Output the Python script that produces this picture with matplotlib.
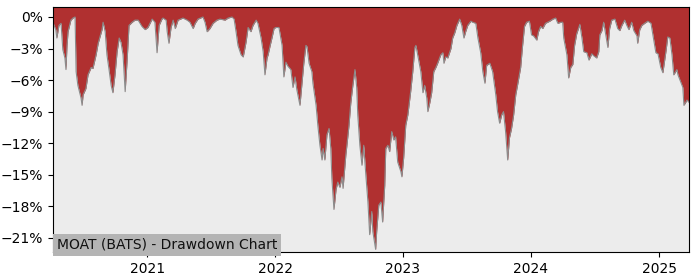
import matplotlib
matplotlib.use("Agg")
import matplotlib.pyplot as plt
import matplotlib.dates as mdates
import matplotlib.ticker as mtick
import pandas as pd

TITLE = "MOAT (BATS) - Drawdown Chart"

# drawdown, in percent
dates = [
    # 2020
    "2020-04-07", "2020-04-10", "2020-04-15", "2020-04-18", "2020-04-24", "2020-04-30",
    "2020-05-05", "2020-05-11", "2020-05-14", "2020-05-17", "2020-05-20", "2020-05-28",
    "2020-06-03", "2020-06-09", "2020-06-12", "2020-06-17", "2020-06-26", "2020-06-29",
    "2020-07-02", "2020-07-10", "2020-07-16", "2020-07-25", "2020-07-30", "2020-08-08",
    "2020-08-14", "2020-08-25", "2020-08-28", "2020-09-03", "2020-09-08", "2020-09-14",
    "2020-09-20", "2020-09-25", "2020-10-01", "2020-10-07", "2020-10-13", "2020-10-18",
    "2020-10-24", "2020-10-30", "2020-11-05", "2020-11-10", "2020-11-19", "2020-11-27",
    "2020-12-06", "2020-12-17", "2020-12-26",
    # 2021
    "2021-01-03", "2021-01-15", "2021-01-23", "2021-01-29", "2021-02-04", "2021-02-12",
    "2021-02-15", "2021-02-24", "2021-02-27", "2021-03-04", "2021-03-10", "2021-03-16",
    "2021-03-22", "2021-03-30", "2021-04-13", "2021-04-25", "2021-05-03", "2021-05-12",
    "2021-05-18", "2021-05-26", "2021-06-09", "2021-06-15", "2021-06-21", "2021-06-29",
    "2021-07-08", "2021-07-19", "2021-07-28", "2021-08-11", "2021-08-20", "2021-08-31",
    "2021-09-06", "2021-09-12", "2021-09-17", "2021-09-26", "2021-10-02", "2021-10-10",
    "2021-10-16", "2021-10-24", "2021-10-30", "2021-11-08", "2021-11-13", "2021-11-22",
    "2021-11-28", "2021-12-03", "2021-12-09", "2021-12-12", "2021-12-18", "2021-12-23",
    "2021-12-29",
    # 2022
    "2022-01-03", "2022-01-12", "2022-01-21", "2022-01-26", "2022-02-01", "2022-02-07",
    "2022-02-15", "2022-02-21", "2022-02-27", "2022-03-04", "2022-03-13", "2022-03-19",
    "2022-03-24", "2022-03-30", "2022-04-02", "2022-04-08", "2022-04-16", "2022-04-19",
    "2022-04-28", "2022-05-03", "2022-05-09", "2022-05-15", "2022-05-18", "2022-05-23",
    "2022-05-29", "2022-06-04", "2022-06-09", "2022-06-12", "2022-06-18", "2022-06-24",
    "2022-06-29", "2022-07-05", "2022-07-11", "2022-07-14", "2022-07-22", "2022-07-25",
    "2022-07-31", "2022-08-05", "2022-08-11", "2022-08-17", "2022-08-22", "2022-08-25",
    "2022-08-31", "2022-09-06", "2022-09-11", "2022-09-17", "2022-09-23", "2022-09-28",
    "2022-10-04", "2022-10-07", "2022-10-15", "2022-10-18", "2022-10-24", "2022-10-30",
    "2022-11-04", "2022-11-10", "2022-11-13", "2022-11-19", "2022-11-24", "2022-11-30",
    "2022-12-06", "2022-12-11", "2022-12-17", "2022-12-26", "2022-12-29",
    # 2023
    "2023-01-03", "2023-01-09", "2023-01-15", "2023-01-23", "2023-01-29", "2023-02-04",
    "2023-02-07", "2023-02-12", "2023-02-21", "2023-02-27", "2023-03-04", "2023-03-10",
    "2023-03-13", "2023-03-19", "2023-03-24", "2023-03-30", "2023-04-05", "2023-04-10",
    "2023-04-19", "2023-04-25", "2023-04-28", "2023-05-03", "2023-05-09", "2023-05-18",
    "2023-05-23", "2023-05-29", "2023-06-04", "2023-06-12", "2023-06-18", "2023-06-24",
    "2023-06-29", "2023-07-05", "2023-07-14", "2023-07-19", "2023-07-28", "2023-08-03",
    "2023-08-11", "2023-08-17", "2023-08-23", "2023-08-28", "2023-09-06", "2023-09-14",
    "2023-09-23", "2023-09-28", "2023-10-04", "2023-10-10", "2023-10-15", "2023-10-21",
    "2023-10-27", "2023-11-01", "2023-11-07", "2023-11-13", "2023-11-19", "2023-11-24",
    "2023-12-03", "2023-12-08", "2023-12-14", "2023-12-20", "2023-12-28",
    # 2024
    "2024-01-03", "2024-01-09", "2024-01-18", "2024-01-23", "2024-01-29", "2024-02-04",
    "2024-02-12", "2024-02-24", "2024-03-04", "2024-03-12", "2024-03-18", "2024-03-27",
    "2024-04-01", "2024-04-04", "2024-04-13", "2024-04-18", "2024-04-24", "2024-04-30",
    "2024-05-05", "2024-05-11", "2024-05-20", "2024-05-26", "2024-05-31", "2024-06-09",
    "2024-06-15", "2024-06-23", "2024-06-29", "2024-07-07", "2024-07-13", "2024-07-16",
    "2024-07-22", "2024-07-27", "2024-08-02", "2024-08-08", "2024-08-13", "2024-08-19",
    "2024-08-28", "2024-09-05", "2024-09-11", "2024-09-17", "2024-09-25", "2024-10-01",
    "2024-10-07", "2024-10-15", "2024-10-21", "2024-10-30", "2024-11-01", "2024-11-07",
    "2024-11-13", "2024-11-21", "2024-11-30", "2024-12-09", "2024-12-14", "2024-12-23",
    "2024-12-29",
    # 2025
    "2025-01-06", "2025-01-12", "2025-01-21", "2025-01-26", "2025-02-01", "2025-02-07",
    "2025-02-12", "2025-02-21", "2025-02-24", "2025-03-04", "2025-03-10", "2025-03-13",
    "2025-03-22", "2025-03-27",
]

drawdown = [
    # 2020
    -0.5, -0.8, -1.2, -2.0, -0.8, -0.6,
    -3.1, -3.9, -5.0, -2.7, -1.4, -0.3,
    -0.1, 0.0, -5.2, -6.5, -7.7, -8.4,
    -7.4, -6.8, -5.5, -4.8, -4.9, -3.6,
    -2.5, -1.2, -0.5, -1.4, -3.6, -5.0,
    -6.5, -7.2, -5.5, -3.3, -2.0, -2.4,
    -3.6, -7.1, -3.9, -0.8, -0.5, -0.3,
    -0.3, -0.9, -1.2,
    # 2021
    -1.0, -0.2, -0.5, -3.4, -0.8, -0.2,
    -0.1, -0.3, -1.4, -2.5, -1.0, -0.3,
    -1.1, -0.3, -0.1, -0.3, -0.5, -1.1,
    -0.6, -0.2, 0.0, -0.5, -1.4, -1.1,
    -0.6, -0.3, -0.2, -0.3, -0.1, 0.0,
    -0.2, -1.5, -2.7, -3.6, -3.8, -2.4,
    -1.0, -1.4, -0.8, -0.3, -0.6, -2.0,
    -3.3, -5.5, -3.9, -3.6, -2.7, -2.0,
    -1.1,
    # 2022
    -1.0, -1.0, -2.7, -5.7, -4.3, -4.7,
    -5.0, -6.7, -5.7, -6.9, -8.4, -6.2,
    -4.4, -2.7, -2.8, -4.4, -5.2, -6.3,
    -8.4, -10.3, -12.2, -13.6, -12.5, -13.6,
    -11.2, -10.6, -12.5, -15.3, -18.3, -16.4,
    -15.7, -16.2, -15.2, -16.3, -13.1, -12.2,
    -10.3, -8.2, -6.5, -5.0, -6.7, -9.3,
    -12.2, -14.1, -12.2, -15.0, -17.6, -20.7,
    -18.5, -20.4, -22.1, -20.4, -17.9, -17.6,
    -19.5, -16.0, -12.5, -12.2, -12.8, -10.9,
    -11.7, -11.4, -13.8, -14.7, -15.2,
    # 2023
    -13.4, -10.3, -9.3, -7.1, -5.2, -2.9,
    -2.7, -3.6, -5.2, -7.2, -6.5, -7.7,
    -9.0, -8.1, -7.2, -5.2, -4.8, -4.4,
    -3.6, -3.4, -4.4, -3.8, -3.9, -3.0,
    -2.0, -1.5, -0.8, -0.2, -0.8, -2.0,
    -1.4, -0.8, -0.4, -0.5, -0.6, -2.0,
    -3.4, -5.2, -6.3, -4.6, -4.4, -5.2,
    -7.4, -9.0, -10.1, -9.3, -9.0, -10.9,
    -13.6, -11.5, -10.6, -9.3, -7.4, -6.5,
    -4.8, -2.9, -0.9, -0.5, -0.4,
    # 2024
    -1.7, -1.8, -2.2, -1.4, -0.9, -1.1,
    -0.6, -0.4, -0.2, -0.1, -0.6, -0.5,
    -0.5, -2.0, -3.6, -5.8, -4.8, -4.5,
    -2.7, -1.6, -0.7, -2.0, -3.3, -3.4,
    -4.1, -3.5, -3.7, -3.9, -3.3, -1.7,
    -1.3, -0.5, -1.7, -2.9, -1.1, -0.3,
    -0.2, -1.1, -1.3, -0.8, -0.3, -0.8,
    -1.2, -0.5, -1.3, -1.8, -2.5, -1.2,
    -0.8, -0.6, -0.4, -0.6, -1.6, -3.4,
    -3.5,
    # 2025
    -4.8, -5.3, -3.2, -1.9, -2.0, -3.6,
    -5.5, -5.0, -5.5, -6.2, -6.7, -8.4,
    -7.9, -8.1,
]

FILL_COLOR = "#b03030"
EDGE_COLOR = "#8c8c8c"
BG_COLOR = "#ececec"
LABEL_BG = "#b4b4b4"
Y_LIMITS = (-22.35, 0.95)


def plot_drawdown(dates, drawdown, out_path="out.png"):
    x = pd.to_datetime(dates)
    fig, ax = plt.subplots(figsize=(7, 2.8), dpi=100)
    fig.subplots_adjust(left=0.0757, right=0.984, top=0.975, bottom=0.1)
    ax.set_facecolor(BG_COLOR)

    # red area runs from the curve up to the top of the axes
    ax.fill_between(x, drawdown, Y_LIMITS[1], color=FILL_COLOR, linewidth=0)
    ax.plot(x, drawdown, color=EDGE_COLOR, linewidth=0.8)

    ax.set_xlim(x.min(), x.max())
    ax.set_ylim(*Y_LIMITS)
    ax.set_yticks(range(0, -22, -3))
    ax.yaxis.set_major_formatter(mtick.PercentFormatter(xmax=100, decimals=0))
    ax.xaxis.set_major_locator(mdates.YearLocator())
    ax.xaxis.set_major_formatter(mdates.DateFormatter("%Y"))

    ax.text(0.006, 0.0, TITLE, transform=ax.transAxes, ha="left", va="bottom",
            fontsize=10, color="#111111",
            bbox=dict(facecolor=LABEL_BG, edgecolor="none", pad=3))

    fig.savefig(out_path, dpi=100)
    plt.close(fig)


if __name__ == "__main__":
    assert len(dates) == len(drawdown)
    plot_drawdown(dates, drawdown)
